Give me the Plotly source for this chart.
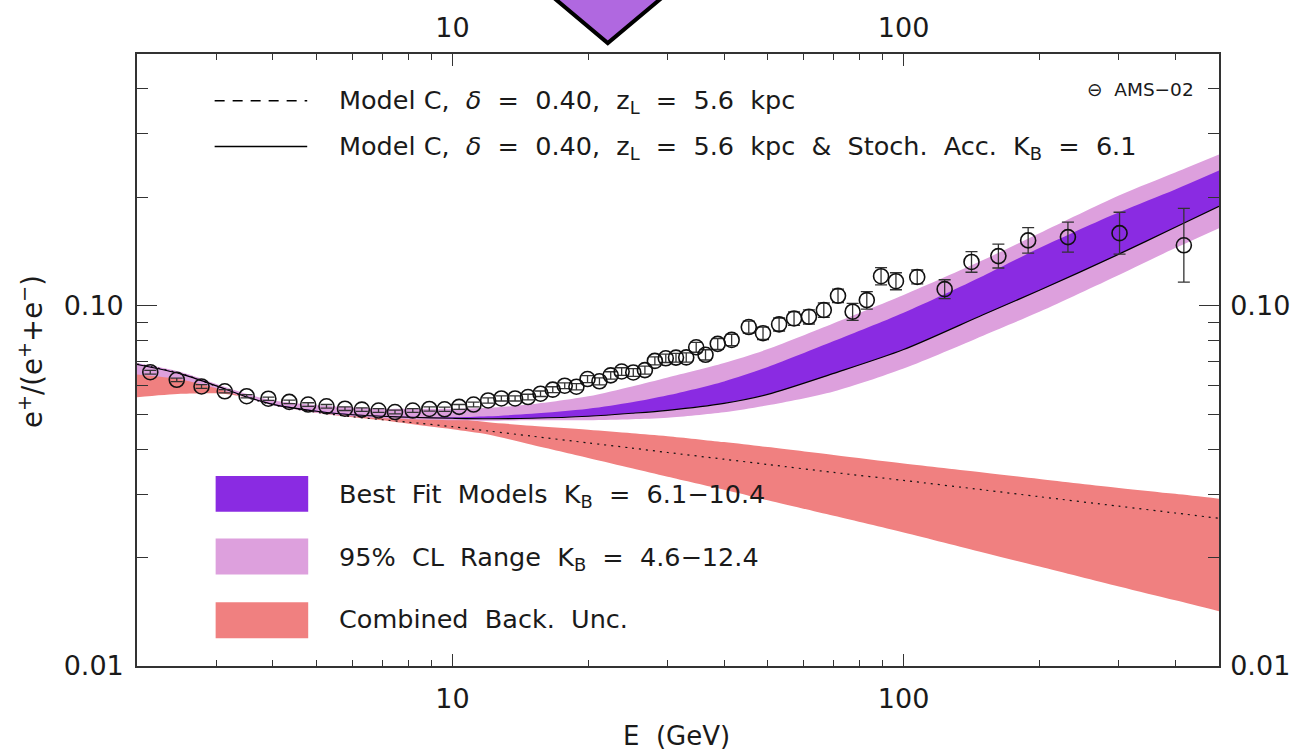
import math
import plotly.graph_objects as go

# ---------------- data ----------------
E_band = [2, 2.5, 3, 3.5, 4, 5, 6, 7, 8, 10, 12, 15, 20, 25, 30, 40, 50, 70, 100, 150, 200, 300, 400, 500]

back_central = [0.06893, 0.06490, 0.05973, 0.05569, 0.05310, 0.05062, 0.04920, 0.04827, 0.04751, 0.04617,
                0.04492, 0.04346, 0.04162, 0.04027, 0.03915, 0.03750, 0.03626, 0.03446, 0.03275, 0.03083,
                0.02951, 0.02777, 0.02659, 0.02570]
back_upper = [0.06828, 0.06490, 0.05973, 0.05641, 0.05430, 0.05226, 0.05127, 0.05062, 0.04967, 0.04873,
              0.04751, 0.04646, 0.04529, 0.04429, 0.04346, 0.04184, 0.04053, 0.03852, 0.03649, 0.03446,
              0.03307, 0.03122, 0.03005, 0.02911]
back_lower = [0.05569, 0.05695, 0.05713, 0.05569, 0.05310, 0.05047, 0.04904, 0.04811, 0.04706, 0.04544,
              0.04393, 0.04112, 0.03779, 0.03537, 0.03350, 0.03083, 0.02885, 0.02612, 0.02348, 0.02067,
              0.01889, 0.01663, 0.01522, 0.01419]

fit_lower = [0.06871, 0.06469, 0.05992, 0.05586, 0.05327, 0.05095, 0.04983, 0.04936, 0.04904, 0.04873,
             0.04858, 0.04873, 0.04936, 0.05031, 0.05127, 0.05361, 0.05677, 0.06490, 0.07559, 0.09443,
             0.1104, 0.1391, 0.1652, 0.1889]
fit_upper = [0.06893, 0.06490, 0.06012, 0.05605, 0.05344, 0.05111, 0.05000, 0.04951, 0.04920, 0.04904,
             0.04936, 0.05014, 0.05176, 0.05395, 0.05641, 0.06167, 0.06762, 0.07978, 0.09565, 0.1210,
             0.1446, 0.1818, 0.2104, 0.2375]
cl_lower = [0.06448, 0.06245, 0.05899, 0.05551, 0.05293, 0.05047, 0.04936, 0.04873, 0.04843, 0.04811,
            0.04796, 0.04811, 0.04811, 0.04843, 0.04889, 0.05062, 0.05293, 0.05786, 0.06699, 0.08262,
            0.09625, 0.1218, 0.1446, 0.1642]
cl_upper = [0.06937, 0.06552, 0.06069, 0.05695, 0.05464, 0.05293, 0.05226, 0.05176, 0.05176, 0.05176,
            0.05209, 0.05327, 0.05605, 0.05973, 0.06326, 0.06937, 0.07582, 0.08946, 0.1072, 0.1340,
            0.1591, 0.2025, 0.2345, 0.2630]

ams_E = [2.14, 2.45, 2.78, 3.13, 3.50, 3.91, 4.35, 4.79, 5.26, 5.78,
         6.30, 6.86, 7.46, 8.17, 8.89, 9.61, 10.35, 11.14, 12.00, 12.84,
         13.77, 14.71, 15.68, 16.69, 17.74, 18.83, 19.93, 21.18, 22.43, 23.72,
         25.17, 26.71, 28.10, 29.71, 31.30, 32.98, 34.70, 36.39, 38.73, 41.58,
         45.38, 48.80, 52.97, 57.17, 61.68, 66.55, 71.55, 77.09, 82.88, 89.13,
         96.16, 107.2, 123.3, 141.4, 162.2, 188.8, 231.3, 301.0, 417.9]
ams_frac = [0.0654, 0.0623, 0.0597, 0.0579, 0.0561, 0.0552, 0.0541, 0.0532, 0.0526, 0.0518,
            0.0515, 0.0512, 0.0507, 0.0512, 0.0517, 0.0516, 0.0524, 0.0532, 0.0546, 0.0553,
            0.0553, 0.0558, 0.0570, 0.0585, 0.0600, 0.0596, 0.0626, 0.0617, 0.0641, 0.0657,
            0.0653, 0.0663, 0.0703, 0.0715, 0.0718, 0.0719, 0.0767, 0.0731, 0.0784, 0.0804,
            0.0873, 0.0839, 0.0888, 0.0922, 0.0932, 0.0973, 0.1066, 0.0963, 0.1037, 0.1208,
            0.1170, 0.1202, 0.1112, 0.1323, 0.1374, 0.1519, 0.1551, 0.1591, 0.1472]
ams_err_up = [0.0008, 0.0007, 0.0007, 0.0006, 0.0006, 0.0006, 0.0006, 0.0006, 0.0006, 0.0006,
              0.0006, 0.0006, 0.0006, 0.0006, 0.0007, 0.0007, 0.0008, 0.0008, 0.0009, 0.0009,
              0.0009, 0.0010, 0.0010, 0.0011, 0.0011, 0.0012, 0.0014, 0.0014, 0.0015, 0.0016,
              0.0016, 0.0017, 0.0018, 0.0019, 0.0020, 0.0021, 0.0024, 0.0024, 0.0027, 0.0029,
              0.0033, 0.0033, 0.0037, 0.0040, 0.0042, 0.0045, 0.0046, 0.0052, 0.0058, 0.0069,
              0.0065, 0.0055, 0.0069, 0.0090, 0.0109, 0.0128, 0.0155, 0.0227, 0.0391]
ams_err_dn = [0.0008, 0.0007, 0.0007, 0.0006, 0.0006, 0.0006, 0.0006, 0.0006, 0.0006, 0.0006,
              0.0006, 0.0006, 0.0006, 0.0006, 0.0007, 0.0007, 0.0008, 0.0008, 0.0009, 0.0009,
              0.0009, 0.0010, 0.0010, 0.0011, 0.0011, 0.0012, 0.0014, 0.0014, 0.0015, 0.0016,
              0.0016, 0.0017, 0.0018, 0.0019, 0.0020, 0.0021, 0.0024, 0.0024, 0.0027, 0.0029,
              0.0033, 0.0033, 0.0037, 0.0040, 0.0042, 0.0045, 0.0046, 0.0052, 0.0058, 0.0065,
              0.0062, 0.0052, 0.0065, 0.0084, 0.0101, 0.0118, 0.0141, 0.0199, 0.0309]

x_tick_vals = [10, 100]
x_tick_text = ["10", "100"]
x_minor_vals = [2, 3, 4, 5, 6, 7, 8, 9, 20, 30, 40, 50, 60, 70, 80, 90, 200, 300, 400]
y_tick_vals = [0.01, 0.1]
y_tick_text = ["0.01", "0.10"]
y_minor_vals = [0.02, 0.03, 0.04, 0.05, 0.06, 0.07, 0.08, 0.09, 0.2, 0.3, 0.4]

# ---------------- style ----------------
FONT = "DejaVu Sans"
INK = "#1a1a1a"
AXC = "#333333"
C_DARK = "#8A2BE2"
C_PLUM = "#DDA0DD"
C_RED = "#F08080"
S2 = "\u00a0 "  # wide word gap

fig = go.Figure()

def band(lo, hi, color):
    fig.add_trace(go.Scatter(x=E_band, y=lo, mode="lines", line=dict(width=0, shape="spline", smoothing=0.8),
                             hoverinfo="skip", showlegend=False))
    fig.add_trace(go.Scatter(x=E_band, y=hi, mode="lines", line=dict(width=0, shape="spline", smoothing=0.8),
                             fill="tonexty", fillcolor=color, hoverinfo="skip", showlegend=False))

band(back_lower, back_upper, C_RED)
band(cl_lower, cl_upper, C_PLUM)
band(fit_lower, fit_upper, C_DARK)

fig.add_trace(go.Scatter(x=E_band, y=back_central, mode="lines",
                         line=dict(color="#111", width=1.2, dash="2px,5px", shape="spline", smoothing=0.8),
                         hoverinfo="skip", showlegend=False))
fig.add_trace(go.Scatter(x=E_band, y=fit_lower, mode="lines",
                         line=dict(color="#000", width=1.2, shape="spline", smoothing=0.8),
                         hoverinfo="skip", showlegend=False))

fig.add_trace(go.Scatter(
    x=ams_E, y=ams_frac, mode="markers",
    marker=dict(symbol="circle-open", size=15, color="#111", line=dict(width=1.6, color="#111")),
    error_y=dict(type="data", symmetric=False, array=ams_err_up, arrayminus=ams_err_dn,
                 color="#333", thickness=1.3, width=6),
    hoverinfo="x+y", showlegend=False))

# dummy trace for mirrored labelled axes
fig.add_trace(go.Scatter(x=[2, 500], y=[0.01, 0.5], xaxis="x2", yaxis="y2", mode="markers",
                         marker=dict(opacity=0), hoverinfo="skip", showlegend=False))

xr = [math.log10(2), math.log10(500)]
yr = [-2, math.log10(0.5)]

xax = dict(type="log", range=xr, tickmode="array", tickvals=x_tick_vals, ticktext=x_tick_text,
           ticks="inside", ticklen=12, tickwidth=1.3, tickcolor=AXC,
           showline=True, linecolor=AXC, linewidth=1.6, showgrid=False, zeroline=False,
           minor=dict(tickmode="array", tickvals=x_minor_vals, ticks="inside", ticklen=6,
                      tickwidth=1.2, tickcolor=AXC, showgrid=False),
           tickfont=dict(family=FONT, size=27, color=INK))
yax = dict(type="log", range=yr, tickmode="array", tickvals=y_tick_vals, ticktext=y_tick_text,
           ticks="inside", ticklen=20, tickwidth=1.3, tickcolor=AXC,
           showline=True, linecolor=AXC, linewidth=1.6, showgrid=False, zeroline=False,
           minor=dict(tickmode="array", tickvals=y_minor_vals, ticks="inside", ticklen=11,
                      tickwidth=1.2, tickcolor=AXC, showgrid=False),
           tickfont=dict(family=FONT, size=27, color=INK))

fig.update_layout(
    width=1302, height=750, autosize=False,
    margin=dict(l=137, r=78, t=51, b=84),
    paper_bgcolor="white", plot_bgcolor="white",
    showlegend=False,
    xaxis=dict(**xax, side="bottom", ticklabelstandoff=8),
    xaxis2=dict(**xax, side="top", overlaying="x", anchor="y2", ticklabelstandoff=4),
    yaxis=dict(**yax, side="left", ticklabelstandoff=6),
    yaxis2=dict(**yax, side="right", overlaying="y", anchor="x2", ticklabelstandoff=4),
)

W, H = 1087.0, 615.0
def px(x):
    return (x - 137) / W
def py(y):
    return (666 - y) / H

shapes = [
    dict(type="line", xref="paper", yref="paper", x0=px(215), x1=px(308), y0=py(98), y1=py(98),
         line=dict(color="#000", width=1.6, dash="10px,8px")),
    dict(type="line", xref="paper", yref="paper", x0=px(215), x1=px(308), y0=py(144), y1=py(144),
         line=dict(color="#000", width=1.6)),
    dict(type="rect", xref="paper", yref="paper", x0=px(216), x1=px(309), y0=py(511), y1=py(475),
         fillcolor=C_DARK, line=dict(width=0)),
    dict(type="rect", xref="paper", yref="paper", x0=px(216), x1=px(309), y0=py(574), y1=py(538),
         fillcolor=C_PLUM, line=dict(width=0)),
    dict(type="rect", xref="paper", yref="paper", x0=px(216), x1=px(309), y0=py(638), y1=py(602),
         fillcolor=C_RED, line=dict(width=0)),
    dict(type="path", xref="paper", yref="paper",
         path="M %.4f,%.4f L %.4f,%.4f L %.4f,%.4f Z" % (px(548), py(-12), px(610), py(40), px(672), py(-12)),
         fillcolor="#B068E0", line=dict(color="#000", width=4)),
]

def ann(text, x, y, size=25.5, xanchor="left", **kw):
    return dict(text=text, x=x, y=y, xref="paper", yref="paper", xanchor=xanchor, yanchor="middle",
                showarrow=False, font=dict(family=FONT, size=size, color=INK), **kw)

DELTA = "<i>δ</i>"
annotations = [
    ann("Model C," + S2 + DELTA + S2 + "=" + S2 + "0.40," + S2 + "z<sub>L</sub>" + S2 + "=" + S2 + "5.6" + S2 + "kpc",
        px(338), py(99)),
    ann("Model C," + S2 + DELTA + S2 + "=" + S2 + "0.40," + S2 + "z<sub>L</sub>" + S2 + "=" + S2 + "5.6" + S2 + "kpc"
        + S2 + "&" + S2 + "Stoch." + S2 + "Acc." + S2 + "K<sub>B</sub>" + S2 + "=" + S2 + "6.1",
        px(338), py(145)),
    ann("⊖" + S2 + "AMS−02", px(1201), py(87), size=18.5, xanchor="right"),
    ann("Best" + S2 + "Fit" + S2 + "Models" + S2 + "K<sub>B</sub>" + S2 + "=" + S2 + "6.1−10.4", px(338), py(495)),
    ann("95%" + S2 + "CL" + S2 + "Range" + S2 + "K<sub>B</sub>" + S2 + "=" + S2 + "4.6−12.4", px(338), py(558)),
    ann("Combined" + S2 + "Back." + S2 + "Unc.", px(338), py(619)),
    ann("E" + S2 + "(GeV)", px(679), py(736), size=26, xanchor="center"),
    ann("e<sup>+</sup>/(e<sup>+</sup>+e<sup>−</sup>)", px(30), py(350), size=27.5, xanchor="center",
        textangle=-90),
]

fig.update_layout(shapes=shapes, annotations=annotations)

fig.write_html("out.html", config={"displayModeBar": False},
               post_script="document.body.style.margin='0px';document.body.style.overflow='hidden';")
